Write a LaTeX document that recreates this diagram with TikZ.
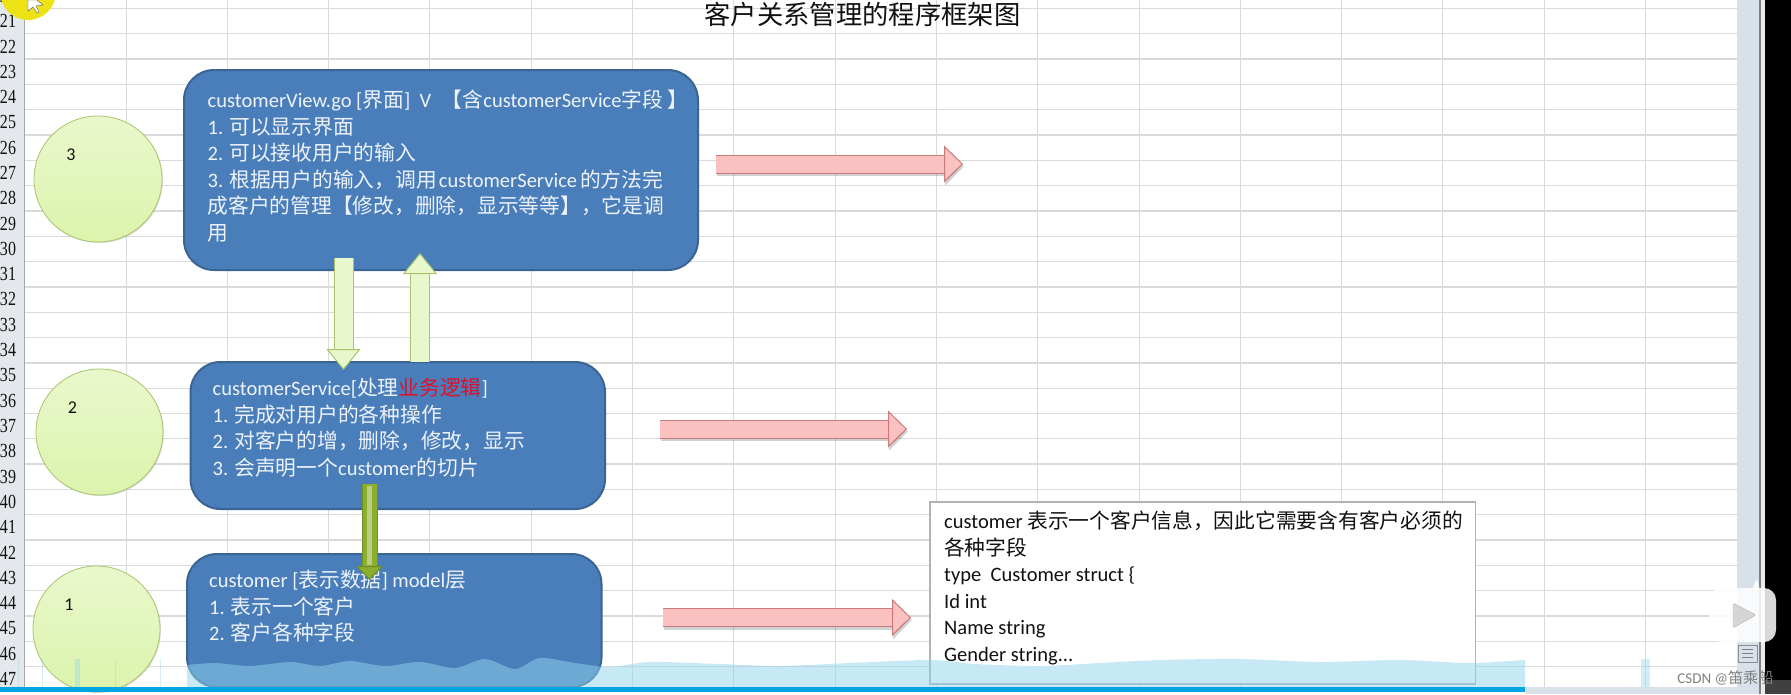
\documentclass[tikz,border=0pt]{standalone}
\usepackage{fontspec}
\setmainfont{Carlito}
\newfontfamily\zhfont[Scale=1.012]{Noto Sans CJK SC}
\newfontfamily\rowfont{Liberation Serif}
\usetikzlibrary{arrows.meta,shadows,shapes.geometric}
\definecolor{ink}{HTML}{111111}
\definecolor{gridc}{HTML}{DADADA}
\definecolor{headc}{HTML}{E4E8EC}
\definecolor{barc}{HTML}{D8E1E9}
\definecolor{boxc}{HTML}{4A7EBB}
\definecolor{boxedge}{HTML}{3A6494}
\definecolor{boxtxt}{HTML}{EEF3FA}
\definecolor{redtxt}{HTML}{E0102A}
\definecolor{pinkc}{HTML}{FBC0C0}
\definecolor{pinkedge}{HTML}{C97A7A}
\definecolor{leafc}{HTML}{E9F8CC}
\definecolor{leaflow}{HTML}{DCF3AC}
\definecolor{leafedge}{HTML}{A9C46C}
\definecolor{olivec}{HTML}{8CAE2E}
\definecolor{oliveedge}{HTML}{6F8F22}
\definecolor{waterc}{HTML}{91D5EC}
\definecolor{streamc}{HTML}{00A5E3}
\newcommand{\zh}[1]{{\zhfont #1}}
\tikzset{
  ball/.style={ellipse,draw=leafedge,thick,top color=leafc,bottom color=leaflow,inner sep=0pt,drop shadow={shadow xshift=1pt,shadow yshift=-1pt,opacity=.25}},
  num/.style={font=\fontsize{18}{20}\selectfont,text=ink},
  layer/.style={draw=boxedge,line width=2pt,fill=boxc,rounded corners=30pt,inner sep=0pt},
  txt/.style={anchor=north west,align=left,inner sep=0pt,text=boxtxt,font=\fontsize{20.5}{26.5}\selectfont},
  note/.style={draw=black!30,line width=1.5pt,fill=white,inner sep=0pt},
  pinkarr/.style={draw=pinkedge,line width=1pt,double=pinkc,double distance=17pt,-{Triangle[length=19pt,width=37pt,fill=pinkc,color=pinkedge]}},
  pinkshade/.style={black,opacity=.18,line width=19pt,transform canvas={xshift=1pt,yshift=-2.5pt},-{Triangle[length=19pt,width=37pt]}},
  leafarr/.style={draw=leafedge,line width=1pt,double=leafc,double distance=18pt,-{Triangle[length=21pt,width=34pt,fill=leafc,color=leafedge]}},
  olivearr/.style={draw=oliveedge,line width=1pt,double=olivec,double distance=14pt,-{Triangle[length=14pt,width=27pt,fill=olivec,color=oliveedge]}},
}
\begin{document}
\begin{tikzpicture}[x=1pt,y=-1pt]
  \useasboundingbox (0,0) rectangle (1791,694);
  \fill[white] (0,0) rectangle (1737,694);
  % sheet grid
  \foreach \k in {0,...,26} {
    \draw[gridc,line width=1pt] (24,8.5+25.3*\k) -- (1737,8.5+25.3*\k);
  }
  \foreach \yy in {59,135,211,287,363,464,540,616} {
    \draw[gridc,line width=2pt] (24,\yy) -- (1737,\yy);
  }
  \foreach \k in {0,...,15} {
    \draw[gridc,line width=1pt] (126+101.3*\k,0) -- (126+101.3*\k,687);
  }
  % row header and scroll bar
  \fill[headc] (0,0) rectangle (24,687);
  \draw[black!35,line width=1pt] (24,0) -- (24,687);
  \fill[barc] (1737,0) rectangle (1760,694);
  \draw[black!50,line width=2pt] (1760,0) -- (1760,694);
  \fill[barc!60!white] (1761,0) rectangle (1765,694);
  \fill[black] (1765,0) rectangle (1791,694);
  \fill[black!75] (1765,680) rectangle (1791,694);
  \draw[black!45,fill=barc] (1738,645) rectangle (1757,662);
  \foreach \yy in {649,653,657} {
    \draw[black!50] (1742,\yy) -- (1753,\yy);
  }
  \foreach \n in {20,...,47} {
    \pgfmathsetmacro{\rowy}{21.15+25.3*(\n-21)}
    \node[font=\rowfont\fontsize{20}{22}\selectfont,text=ink,xscale=.8,inner sep=0pt] (row\n) at (8,\rowy) {\n};
  }
  % mouse pointer
  \fill[yellow!92!black] (28,-8) circle (28);
  \draw[black!70,fill=white] (28,0) -- (28,11) -- (33,7) -- (37,13) -- (39,12) -- (36,6) -- (43,5) -- (37,0) -- cycle;
  % title
  \node[font=\zhfont\fontsize{26}{28}\selectfont,text=ink] (title) at (862.5,14) {客户关系管理的程序框架图};
  % the three numbered circles
  \node[ball,minimum width=128pt,minimum height=126pt] (ball3) at (98,179) {};
  \node[ball,minimum width=127pt,minimum height=126pt] (ball2) at (99.5,432) {};
  \node[ball,minimum width=127pt,minimum height=126pt] (ball1) at (96.5,629) {};
  \node[num] (num3) at (71,155) {3};
  \node[num] (num2) at (72.5,408) {2};
  \node[num] (num1) at (69,605) {1};
  % the three layers
  \node[layer,minimum width=514pt,minimum height=200pt] (viewbox) at (441,170) {};
  \node[layer,minimum width=414.5pt,minimum height=147pt] (svcbox) at (397.75,435.5) {};
  \node[layer,minimum width=414.5pt,minimum height=133pt] (modelbox) at (394.25,620.5) {};
  \node[txt] (viewtxt) at (207.5,90) {customerView.go [\zh{界面}]\ \ V\hspace{6pt} \zh{【含}customerService\zh{字段}\hspace{4pt}\zh{】}\\
    1. \zh{可以显示界面}\\
    2. \zh{可以接收用户的输入}\\
    3. \zh{根据用户的输入，调用}\hspace{2pt}customerService\hspace{3pt}\zh{的方法完}\\
    \zh{成客户的管理【修改，删除，显示等等】，它是调}\\
    \zh{用}};
  \node[txt] (svctxt) at (212.5,378) {customerService[\zh{处理}\textcolor{redtxt}{\zh{业务逻辑}}]\\
    1. \zh{完成对用户的各种操作}\\
    2. \zh{对客户的增，删除，修改，显示}\\
    3. \zh{会声明一个}customer\zh{的切片}};
  \node[txt] (modeltxt) at (209,570) {customer [\zh{表示数据}] model\zh{层}\\
    1. \zh{表示一个客户}\\
    2. \zh{客户各种字段}};
  % note
  \node[note,minimum width=545.5pt,minimum height=182pt] (notebox) at (1202.75,593) {};
  \node[txt,text=ink] (notetxt) at (944,511) {customer \zh{表示一个客户信息，因此它需要含有客户必须的}\\
    \zh{各种字段}\\
    type\ \ Customer struct \{\\
    Id int\\
    Name string\\
    Gender string...};
  % arrows between layers
  \coordinate (downA) at (343.5,258);
  \coordinate (downB) at (343.5,370);
  \coordinate (upA) at (420,362);
  \coordinate (upB) at (420,253);
  \coordinate (modelA) at (369.5,484);
  \coordinate (modelB) at (369.5,580);
  \draw[leafarr] (downA) -- (downB);
  \draw[leafarr] (upA) -- (upB);
  \draw[olivearr] (modelA) -- (modelB);
  \draw[olivec!60!white,line width=5pt,shorten >=15pt,shorten <=2pt] (modelA) -- (modelB);
  % arrows to the right
  \coordinate (viewin) at (716,164);
  \coordinate (viewout) at (963,164);
  \coordinate (svcin) at (660,429);
  \coordinate (svcout) at (907,429);
  \coordinate (modelin) at (663,617.5);
  \coordinate (modelout) at (911,617.5);
  \foreach \a/\b in {viewin/viewout,svcin/svcout,modelin/modelout} {
    \draw[pinkshade] (\a) -- (\b);
    \draw[pinkarr] (\a) -- (\b);
  }
  % video progress strip
  \fill[waterc,opacity=.5] (187,687) -- plot[smooth] coordinates {(187,665) (215,663) (250,666) (290,662) (320,666) (350,661) (385,666) (420,662) (455,668) (485,659) (515,669) (540,658) (575,663) (610,667) (650,662) (720,664) (780,666) (850,663) (930,660) (975,664) (1040,666) (1100,663) (1160,660) (1240,659) (1320,662) (1400,660) (1470,663) (1525,660)} -- (1525,687) -- cycle;
  \foreach \xa/\xb in {75/80,18/19,42/43,115/116,160/161,1641/1650} {
    \fill[waterc,opacity=.4] (\xa,659) rectangle (\xb,687);
  }
  \fill[streamc] (0,687) rectangle (1525,692);
  \fill[barc] (1525,687) rectangle (1737,694);
  % player badge
  \fill[white,opacity=.85,rounded corners=3pt] (1726,584) -- (1731,578) -- (1737,590) -- cycle;
  \fill[white,opacity=.85,rounded corners=3pt] (1760,590) -- (1757,578) -- (1752,590) -- cycle;
  \fill[white,opacity=.85,rounded corners=12pt] (1709,588) rectangle (1776,642);
  \draw[black!35,fill=black!20,opacity=.8,rounded corners=2pt] (1733,603) -- (1756,615) -- (1733,628) -- cycle;
  \node[font=\fontsize{15}{17}\selectfont,text=black!50] (mark) at (1725.5,678) {CSDN @\zh{笛乘船}};
\end{tikzpicture}
\end{document}
